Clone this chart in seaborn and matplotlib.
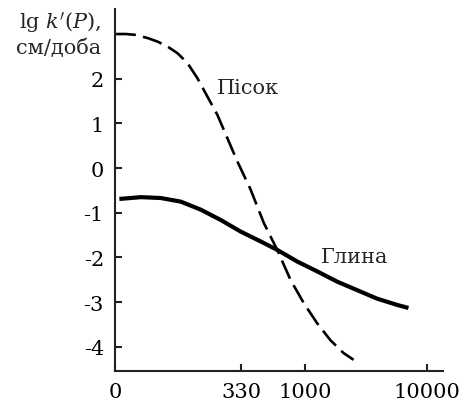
import matplotlib
matplotlib.use("Agg")
import matplotlib.pyplot as plt
import seaborn as sns
import pandas as pd

# --- data (x in lg P units, y = lg k'(P)) ---
sand_x = [1.443, 1.525, 1.607, 1.702, 1.784, 1.866, 1.948, 2.030, 2.112, 2.194, 2.276,
          2.358, 2.440, 2.549, 2.658, 2.768, 2.877, 2.986, 3.096, 3.205, 3.314, 3.396]
sand_y = [3.00, 3.00, 2.98, 2.91, 2.83, 2.72, 2.57, 2.35, 2.01, 1.60, 1.19,
          0.67, 0.15, -0.48, -1.23, -1.83, -2.50, -3.02, -3.47, -3.85, -4.14, -4.29]
clay_x = [1.470, 1.648, 1.811, 1.975, 2.139, 2.303, 2.467, 2.631, 2.768, 2.932, 3.096,
          3.260, 3.424, 3.588, 3.752, 3.847]
clay_y = [-0.69, -0.65, -0.67, -0.75, -0.93, -1.16, -1.42, -1.64, -1.83, -2.09, -2.31,
          -2.54, -2.73, -2.92, -3.06, -3.13]
x_tick_labels = ["0", "330", "1000", "10000"]
y_ticks = [-4, -3, -2, -1, 0, 1, 2]
sand_label = "Пісок"
clay_label = "Глина"

sand = pd.DataFrame({"x": sand_x, "y": sand_y})
clay = pd.DataFrame({"x": clay_x, "y": clay_y})

sns.set_style("ticks")
plt.rcParams["font.family"] = ["DejaVu Serif", "DejaVu Sans"]
plt.rcParams["mathtext.fontset"] = "dejavuserif"

fig = plt.figure(figsize=(4.64, 4.06), dpi=100)
ax = fig.add_axes([115 / 464, 1 - 372 / 406, (443 - 115) / 464, (372 - 10) / 406])

sns.lineplot(data=sand, x="x", y="y", ax=ax, color="black", lw=1.9,
             linestyle=(0, (7.5, 2.8)), sort=False)
sns.lineplot(data=clay, x="x", y="y", ax=ax, color="black", lw=3.0, sort=False,
             solid_joinstyle="round", solid_capstyle="butt")

ax.set_xlim(1.434, 4.131)
ax.set_ylim(-4.54, 3.56)
ax.set_xticks([1.434, 2.47, 3.0, 4.0])
ax.set_xticklabels(x_tick_labels)
ax.set_yticks(y_ticks)
ax.set_yticklabels([str(v) for v in y_ticks])
ax.set_xlabel("")
ax.set_ylabel("")

for s in ["top", "right"]:
    ax.spines[s].set_visible(False)
for s in ["left", "bottom"]:
    ax.spines[s].set_linewidth(1.5)
    ax.spines[s].set_color("#222222")

ax.tick_params(axis="both", direction="in", length=5, width=1.5, colors="#222222",
               labelcolor="black", labelsize=15)
ax.tick_params(axis="x", pad=8)
ax.tick_params(axis="y", pad=8)

ax.text(2.27, 1.81, sand_label, fontsize=15, ha="left", va="center")
ax.text(3.13, -1.97, clay_label, fontsize=15, ha="left", va="center")

fig.text(101 / 464, 1 - 23 / 406, r"lg $k'(P)$,", fontsize=15, ha="right", va="center")
fig.text(101 / 464, 1 - 48 / 406, "см/доба", fontsize=15, ha="right", va="center")

fig.savefig("out.png", dpi=100)
